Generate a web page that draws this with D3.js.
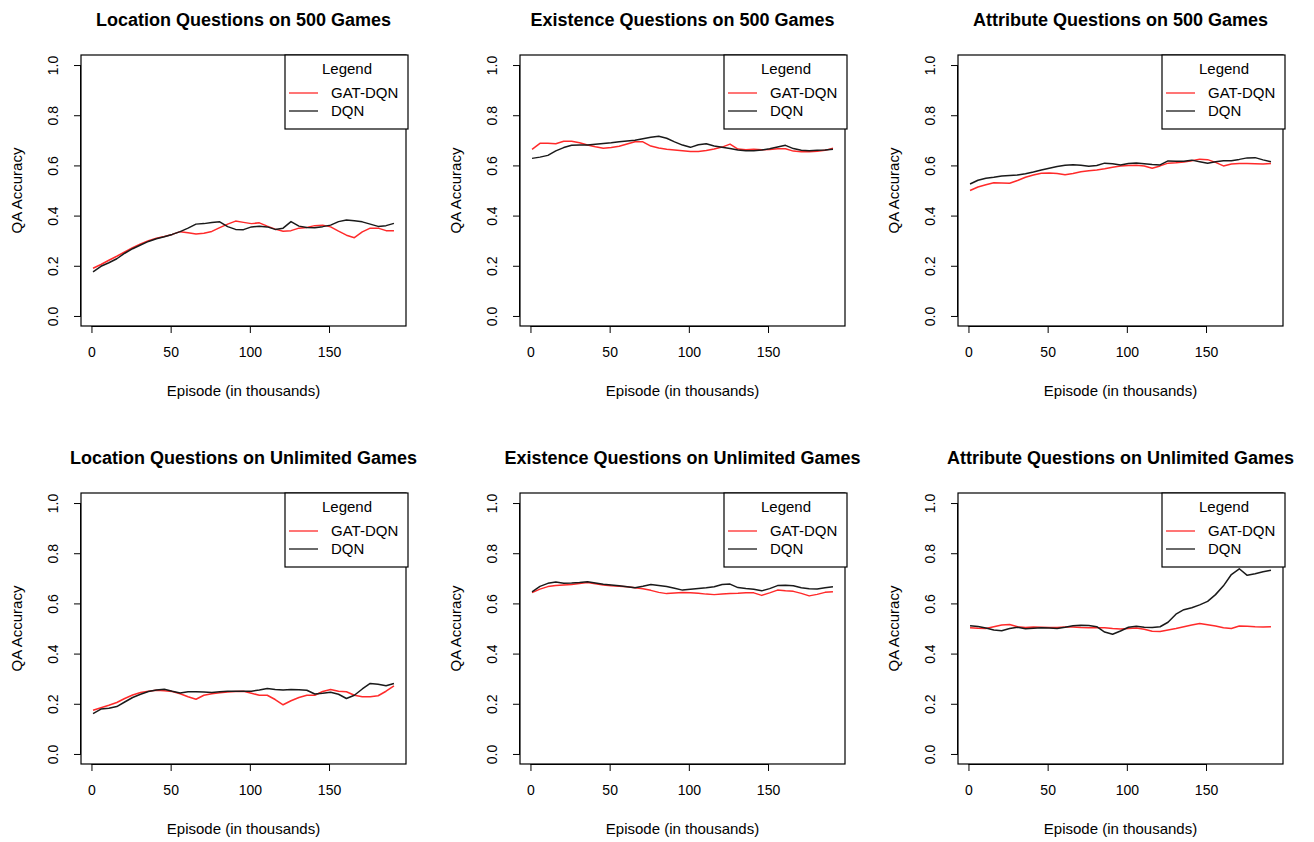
<!DOCTYPE html>
<html>
<head>
<meta charset="utf-8">
<script src="https://cdn.jsdelivr.net/npm/d3@7"></script>
<style>
  body { margin: 0; background: #fff; }
  svg text { font-family: "Liberation Sans", Arial, sans-serif; fill: #000; }
</style>
</head>
<body>
<svg id="chart" width="1314" height="842"></svg>
<script>
// episodes (in thousands) shared by every panel
var episodes = [1, 6, 11, 16, 21, 26, 31, 36, 41, 46, 51, 56, 61, 66, 71, 76, 81, 86, 91, 96,
  101, 106, 111, 116, 121, 126, 131, 136, 141, 146, 151, 156, 161, 166, 171, 176, 181, 186, 191];

var titles = [
  "Location Questions on 500 Games",
  "Existence Questions on 500 Games",
  "Attribute Questions on 500 Games",
  "Location Questions on Unlimited Games",
  "Existence Questions on Unlimited Games",
  "Attribute Questions on Unlimited Games"
];

var seriesNames = ["GAT-DQN", "DQN"];
var yTicks = [0, 0.2, 0.4, 0.6, 0.8, 1.0];
var xTicks = [0, 50, 100, 150];

var locGat500 = [0.190, 0.205, 0.222, 0.238, 0.255, 0.272, 0.287, 0.300, 0.310, 0.317, 0.325, 0.336, 0.332,
  0.327, 0.330, 0.337, 0.352, 0.366, 0.378, 0.373, 0.368, 0.371, 0.358, 0.346, 0.338, 0.340, 0.350, 0.353,
  0.360, 0.362, 0.355, 0.338, 0.322, 0.312, 0.335, 0.350, 0.350, 0.340, 0.340];
var locDqn500 = [0.176, 0.198, 0.212, 0.228, 0.250, 0.268, 0.283, 0.297, 0.308, 0.316, 0.325, 0.336, 0.350,
  0.366, 0.368, 0.372, 0.375, 0.356, 0.345, 0.344, 0.355, 0.358, 0.355, 0.345, 0.350, 0.376, 0.358, 0.353,
  0.352, 0.356, 0.362, 0.376, 0.382, 0.379, 0.375, 0.366, 0.357, 0.360, 0.369];

var exiGat500 = [0.664, 0.688, 0.688, 0.686, 0.696, 0.696, 0.690, 0.681, 0.674, 0.668, 0.671, 0.676, 0.685,
  0.694, 0.694, 0.677, 0.669, 0.664, 0.661, 0.658, 0.655, 0.655, 0.659, 0.665, 0.673, 0.685, 0.665, 0.662,
  0.664, 0.662, 0.663, 0.666, 0.666, 0.657, 0.654, 0.654, 0.656, 0.660, 0.668];
var exiDqn500 = [0.628, 0.633, 0.640, 0.658, 0.671, 0.680, 0.681, 0.681, 0.684, 0.687, 0.690, 0.694, 0.697,
  0.700, 0.706, 0.712, 0.716, 0.708, 0.694, 0.681, 0.672, 0.682, 0.686, 0.677, 0.672, 0.667, 0.661, 0.658,
  0.658, 0.661, 0.666, 0.673, 0.680, 0.667, 0.660, 0.658, 0.660, 0.661, 0.664];

var attGat500 = [0.500, 0.514, 0.523, 0.531, 0.530, 0.529, 0.540, 0.553, 0.562, 0.569, 0.570, 0.568, 0.563,
  0.568, 0.575, 0.579, 0.582, 0.587, 0.593, 0.598, 0.600, 0.601, 0.598, 0.589, 0.598, 0.609, 0.611, 0.614,
  0.619, 0.625, 0.623, 0.612, 0.598, 0.606, 0.608, 0.608, 0.607, 0.606, 0.608];
var attDqn500 = [0.526, 0.541, 0.549, 0.553, 0.558, 0.560, 0.562, 0.567, 0.574, 0.582, 0.589, 0.596, 0.601,
  0.603, 0.601, 0.597, 0.600, 0.609, 0.607, 0.602, 0.608, 0.610, 0.607, 0.604, 0.602, 0.618, 0.617, 0.617,
  0.621, 0.615, 0.609, 0.615, 0.619, 0.619, 0.624, 0.630, 0.631, 0.622, 0.615];

var locGatUnl = [0.174, 0.184, 0.194, 0.205, 0.221, 0.235, 0.245, 0.250, 0.254, 0.252, 0.249, 0.240, 0.228,
  0.218, 0.234, 0.240, 0.244, 0.247, 0.249, 0.250, 0.242, 0.234, 0.234, 0.217, 0.196, 0.212, 0.225, 0.234,
  0.234, 0.249, 0.257, 0.250, 0.248, 0.234, 0.228, 0.228, 0.232, 0.250, 0.271];
var locDqnUnl = [0.161, 0.179, 0.182, 0.189, 0.207, 0.225, 0.238, 0.249, 0.255, 0.258, 0.250, 0.243, 0.248,
  0.248, 0.247, 0.245, 0.248, 0.250, 0.250, 0.250, 0.250, 0.255, 0.261, 0.257, 0.255, 0.257, 0.256, 0.254,
  0.239, 0.242, 0.246, 0.238, 0.221, 0.234, 0.259, 0.281, 0.278, 0.272, 0.281];

var exiGatUnl = [0.643, 0.657, 0.667, 0.671, 0.673, 0.675, 0.679, 0.683, 0.678, 0.673, 0.670, 0.668, 0.666,
  0.662, 0.658, 0.652, 0.644, 0.639, 0.641, 0.643, 0.642, 0.640, 0.637, 0.635, 0.637, 0.639, 0.640, 0.642,
  0.642, 0.632, 0.642, 0.653, 0.650, 0.648, 0.640, 0.630, 0.636, 0.644, 0.646];
var exiDqnUnl = [0.646, 0.668, 0.680, 0.685, 0.680, 0.681, 0.683, 0.686, 0.681, 0.676, 0.673, 0.670, 0.666,
  0.662, 0.668, 0.675, 0.671, 0.667, 0.660, 0.653, 0.656, 0.659, 0.662, 0.666, 0.675, 0.677, 0.663, 0.659,
  0.656, 0.650, 0.659, 0.671, 0.672, 0.670, 0.662, 0.658, 0.657, 0.662, 0.666];

var attGatUnl = [0.503, 0.501, 0.500, 0.507, 0.514, 0.516, 0.507, 0.504, 0.506, 0.505, 0.504, 0.504, 0.506,
  0.506, 0.504, 0.503, 0.503, 0.503, 0.500, 0.498, 0.500, 0.502, 0.497, 0.489, 0.488, 0.494, 0.500, 0.507,
  0.514, 0.520, 0.515, 0.510, 0.503, 0.500, 0.510, 0.509, 0.507, 0.506, 0.507];
var attDqnUnl = [0.511, 0.508, 0.502, 0.494, 0.491, 0.500, 0.505, 0.499, 0.501, 0.503, 0.502, 0.500, 0.505,
  0.511, 0.513, 0.512, 0.507, 0.486, 0.477, 0.490, 0.505, 0.509, 0.505, 0.504, 0.507, 0.525, 0.557, 0.575,
  0.583, 0.594, 0.608, 0.635, 0.670, 0.715, 0.738, 0.712, 0.718, 0.726, 0.732];

var panelData = [
  [locGat500, locDqn500], [exiGat500, exiDqn500], [attGat500, attDqn500],
  [locGatUnl, locDqnUnl], [exiGatUnl, exiDqnUnl], [attGatUnl, attDqnUnl]
];
var colors = ["#ff2a2a", "#1a1a1a"];

// plot box positions
var colLeft = [81, 520, 958];
var rowTop = [55, 493];
var plotW = 325, plotH = 271;

var svg = d3.select("#chart");

panelData.forEach(function (series, i) {
  var left = colLeft[i % 3], top = rowTop[Math.floor(i / 3)];
  var g = svg.append("g").attr("transform", `translate(${left}, ${top})`);

  // R style 4% padding on both axes
  var xMin = d3.min(episodes), xMax = d3.max(episodes), xPad = (xMax - xMin) * 0.04;
  var x = d3.scaleLinear().domain([xMin - xPad, xMax + xPad]).range([0, plotW]);
  var y = d3.scaleLinear().domain([-0.04, 1.04]).range([plotH, 0]);

  var line = d3.line()
    .x(function (d, k) { return x(episodes[k]); })
    .y(function (d) { return y(d); });

  series.forEach(function (vals, s) {
    g.append("path")
      .attr("d", line(vals))
      .attr("fill", "none")
      .attr("stroke", colors[s])
      .attr("stroke-width", 1.5)
      .attr("stroke-linejoin", "round");
  });

  // box
  g.append("rect")
    .attr("width", plotW).attr("height", plotH)
    .attr("fill", "none").attr("stroke", "#000").attr("stroke-width", 1.2);

  // y axis, labels turned like R's default
  var yAxis = g.append("g")
    .call(d3.axisLeft(y).tickValues(yTicks).tickSize(7).tickFormat(d3.format(".1f")));
  yAxis.select(".domain").attr("d", `M-0.5,${y(0)}V${y(1)}`).attr("stroke", "#000");
  yAxis.selectAll("text")
    .attr("font-size", 14)
    .attr("fill", "#000")
    .attr("transform", "rotate(-90)")
    .attr("text-anchor", "middle")
    .attr("x", 0)
    .attr("y", -28)
    .attr("dy", "0.35em");

  // x axis
  var xAxis = g.append("g")
    .attr("transform", `translate(0, ${plotH})`)
    .call(d3.axisBottom(x).tickValues(xTicks).tickSize(7).tickPadding(14));
  xAxis.select(".domain").attr("d", `M${x(0)},0.5H${x(150)}`).attr("stroke", "#000");
  xAxis.selectAll("text").attr("font-size", 14).attr("fill", "#000");

  // titles and axis labels
  g.append("text")
    .attr("x", plotW / 2).attr("y", -29)
    .attr("text-anchor", "middle")
    .attr("font-size", 18).attr("font-weight", "bold")
    .text(titles[i]);
  g.append("text")
    .attr("x", plotW / 2).attr("y", plotH + 70)
    .attr("text-anchor", "middle")
    .attr("font-size", 15)
    .text("Episode (in thousands)");
  g.append("text")
    .attr("transform", `translate(-59, ${plotH / 2}) rotate(-90)`)
    .attr("text-anchor", "middle")
    .attr("font-size", 15)
    .text("QA Accuracy");

  // legend in the top right corner
  var lw = 123, lh = 74;
  var lg = g.append("g").attr("transform", `translate(${plotW - lw + 2}, 0)`);
  lg.append("rect")
    .attr("width", lw).attr("height", lh)
    .attr("fill", "#fff").attr("stroke", "#000").attr("stroke-width", 1.2);
  lg.append("text")
    .attr("x", 62).attr("y", 19)
    .attr("text-anchor", "middle")
    .attr("font-size", 15)
    .text("Legend");
  seriesNames.forEach(function (name, s) {
    var ly = 38 + s * 18;
    lg.append("line")
      .attr("x1", 4).attr("x2", 33).attr("y1", ly).attr("y2", ly)
      .attr("stroke", colors[s]).attr("stroke-width", 1.3);
    lg.append("text")
      .attr("x", 46).attr("y", ly + 5)
      .attr("font-size", 15)
      .text(name);
  });
});
</script>
</body>
</html>
